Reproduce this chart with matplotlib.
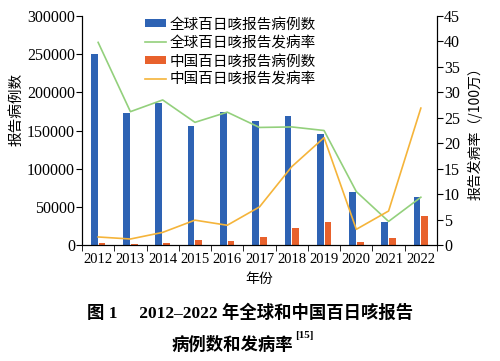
import matplotlib.pyplot as plt
import numpy as np

years = ['2012', '2013', '2014', '2015', '2016', '2017', '2018', '2019', '2020', '2021', '2022']
global_cases = [250000, 172500, 186400, 155900, 174700, 162900, 169400, 145400, 69900, 29700, 62400]
china_cases = [2183, 1712, 3408, 6658, 5584, 10390, 22057, 30027, 4475, 9611, 38295]
global_rate = [39.8, 26.2, 28.5, 24.1, 26.1, 23.1, 23.2, 22.5, 10.5, 4.65, 9.4]
china_rate = [1.6, 1.2, 2.5, 4.9, 3.9, 7.5, 15.4, 21.1, 3.1, 6.7, 26.9]

cjk = ['Noto Sans CJK SC', 'DejaVu Sans']
serif = ['Liberation Serif', 'Noto Sans CJK SC']

fig = plt.figure(figsize=(5, 3.61), dpi=100)
ax = fig.add_axes([0.164, 0.321, 0.71, 0.635])
ax2 = ax.twinx()

x = np.arange(len(years))
w = 0.21
b1 = ax.bar(x - w / 2 - 0.015, global_cases, w, color='#2e63b4', label='全球百日咳报告病例数')
b2 = ax.bar(x + w / 2 + 0.015, china_cases, w, color='#e8612c', label='中国百日咳报告病例数')
l1, = ax2.plot(x, global_rate, color='#93d07c', lw=1.2, label='全球百日咳报告发病率')
l2, = ax2.plot(x, china_rate, color='#f5b43a', lw=1.2, label='中国百日咳报告发病率')

ax.set_xlim(-0.5, len(years) - 0.5)
ax.set_ylim(0, 300000)
ax2.set_ylim(0, 45)
ax.set_yticks(range(0, 300001, 50000))
ax2.set_yticks(range(0, 46, 5))
ax.set_xticks(x)
ax.set_xticklabels(years)
ax.set_xticks(np.arange(-0.5, len(years), 1), minor=True)
ax.tick_params(axis='x', which='major', length=0, pad=6, labelsize=10.5)
ax.tick_params(axis='x', which='minor', length=4)

for a in (ax, ax2):
    a.spines['top'].set_visible(False)
    a.tick_params(axis='y', labelsize=11.5, length=4, pad=1, width=0.8)
    for lab in a.get_xticklabels() + a.get_yticklabels():
        lab.set_family(serif)

ax.set_ylabel('报告病例数', family=cjk, fontsize=10.5)
ax.yaxis.set_label_coords(-0.165, 0.59)
ax2.set_ylabel('报告发病率（/100万）', family=cjk, fontsize=10, labelpad=5)
ax.set_xlabel('年份', family=cjk, fontsize=10, labelpad=4)

leg = ax.legend([b1, l1, b2, l2], [b1.get_label(), l1.get_label(), b2.get_label(), l2.get_label()],
                loc='upper left', bbox_to_anchor=(0.14, 1.05), frameon=False,
                prop={'family': cjk, 'size': 10.5}, handlelength=1.45, handletextpad=0.25,
                labelspacing=0.3)
for h in leg.legend_handles[0::2]:
    h.set_height(6)
    h.set_y(1)

# caption below the chart
fig.text(0.5, 0.133, '图 1\u3000 2012–2022 年全球和中国百日咳报告', ha='center', va='center',
         family=serif, fontsize=12.5, fontweight='bold')
t2 = fig.text(0.465, 0.044, '病例数和发病率', ha='center', va='center',
              family=cjk, fontsize=12.5, fontweight='bold')
fig.canvas.draw()
bb = t2.get_window_extent().transformed(fig.transFigure.inverted())
fig.text(bb.x1 + 0.004, 0.07, '[15]', ha='left', va='center',
         family=serif, fontsize=8, fontweight='bold')

fig.savefig('out.png', dpi=100)
